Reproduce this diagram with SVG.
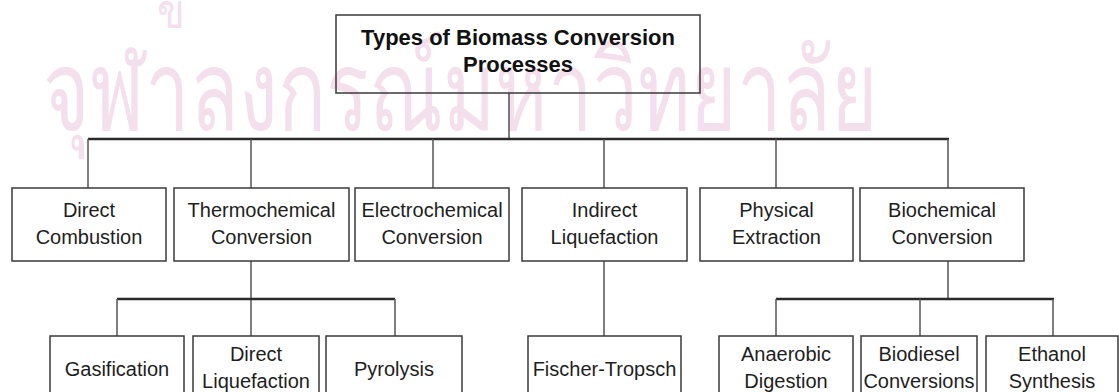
<svg xmlns="http://www.w3.org/2000/svg" width="1119" height="392" viewBox="0 0 1119 392">
<style>
.box{fill:none;stroke:#3a3a3a;stroke-width:1.5}
.t{font-family:"Liberation Sans",Arial,Helvetica,sans-serif;font-size:20px;fill:#1e1e1e;text-anchor:middle}
.tb{font-family:"Liberation Sans",Arial,Helvetica,sans-serif;font-size:22px;font-weight:bold;fill:#111;text-anchor:middle}
.v{stroke:#555;stroke-width:1.5;fill:none}
.bus{stroke:#2a2a2a;stroke-width:2.5;fill:none}
.wm{font-family:"Noto Sans","DejaVu Sans",sans-serif;fill:#f4dfec}
</style>
<rect width="1119" height="392" fill="#ffffff"/>
<text class="wm" x="43" y="130" font-size="112" textLength="835" lengthAdjust="spacingAndGlyphs">จุฬาลงกรณ์มหาวิทยาลัย</text>
<text class="wm" x="157" y="28" font-size="48" textLength="28" lengthAdjust="spacingAndGlyphs">ข</text>
<g id="connectors">
<line class="v" x1="509" y1="93" x2="509" y2="139"/>
<line class="bus" x1="88" y1="139" x2="949" y2="139"/>
<line class="v" x1="88" y1="139" x2="88" y2="188"/>
<line class="v" x1="251" y1="139" x2="251" y2="188"/>
<line class="v" x1="433" y1="139" x2="433" y2="188"/>
<line class="v" x1="604" y1="139" x2="604" y2="188"/>
<line class="v" x1="776" y1="139" x2="776" y2="188"/>
<line class="v" x1="948" y1="139" x2="948" y2="188"/>
<line class="v" x1="251" y1="261" x2="251" y2="336"/>
<line class="bus" x1="117" y1="299" x2="395" y2="299"/>
<line class="v" x1="117" y1="299" x2="117" y2="336"/>
<line class="v" x1="395" y1="299" x2="395" y2="336"/>
<line class="v" x1="604" y1="261" x2="604" y2="336"/>
<line class="v" x1="948" y1="261" x2="948" y2="299"/>
<line class="bus" x1="776" y1="299" x2="1054" y2="299"/>
<line class="v" x1="776" y1="299" x2="776" y2="336"/>
<line class="v" x1="920" y1="299" x2="920" y2="336"/>
<line class="v" x1="1053" y1="299" x2="1053" y2="336"/>
</g>
<g id="root"><rect class="box" x="336" y="15" width="364" height="78"/><text class="tb" x="518" y="45">Types of Biomass Conversion</text><text class="tb" x="518" y="72">Processes</text></g>
<g id="direct-combustion"><rect class="box" x="12" y="188" width="154" height="73"/><text class="t" x="89" y="217">Direct</text><text class="t" x="89" y="244">Combustion</text></g>
<g id="thermochemical"><rect class="box" x="174" y="188" width="175" height="73"/><text class="t" x="261.5" y="217">Thermochemical</text><text class="t" x="261.5" y="244">Conversion</text></g>
<g id="electrochemical"><rect class="box" x="355" y="188" width="154" height="73"/><text class="t" x="432" y="217">Electrochemical</text><text class="t" x="432" y="244">Conversion</text></g>
<g id="indirect-liquefaction"><rect class="box" x="522" y="188" width="165" height="73"/><text class="t" x="604.5" y="217">Indirect</text><text class="t" x="604.5" y="244">Liquefaction</text></g>
<g id="physical-extraction"><rect class="box" x="700" y="188" width="153" height="73"/><text class="t" x="776.5" y="217">Physical</text><text class="t" x="776.5" y="244">Extraction</text></g>
<g id="biochemical"><rect class="box" x="860" y="188" width="164" height="73"/><text class="t" x="942" y="217">Biochemical</text><text class="t" x="942" y="244">Conversion</text></g>
<g id="gasification"><rect class="box" x="50" y="336" width="134" height="73"/><text class="t" x="117" y="376">Gasification</text></g>
<g id="direct-liquefaction"><rect class="box" x="193" y="336" width="126" height="73"/><text class="t" x="256" y="361">Direct</text><text class="t" x="256" y="388">Liquefaction</text></g>
<g id="pyrolysis"><rect class="box" x="326" y="336" width="136" height="73"/><text class="t" x="394" y="376">Pyrolysis</text></g>
<g id="fischer-tropsch"><rect class="box" x="528" y="336" width="153" height="73"/><text class="t" x="604.5" y="376">Fischer-Tropsch</text></g>
<g id="anaerobic-digestion"><rect class="box" x="719" y="336" width="134" height="73"/><text class="t" x="786" y="361">Anaerobic</text><text class="t" x="786" y="388">Digestion</text></g>
<g id="biodiesel"><rect class="box" x="861" y="336" width="116" height="73"/><text class="t" x="919" y="361">Biodiesel</text><text class="t" x="919" y="388">Conversions</text></g>
<g id="ethanol"><rect class="box" x="986" y="336" width="132" height="73"/><text class="t" x="1052" y="361">Ethanol</text><text class="t" x="1052" y="388">Synthesis</text></g>
</svg>
